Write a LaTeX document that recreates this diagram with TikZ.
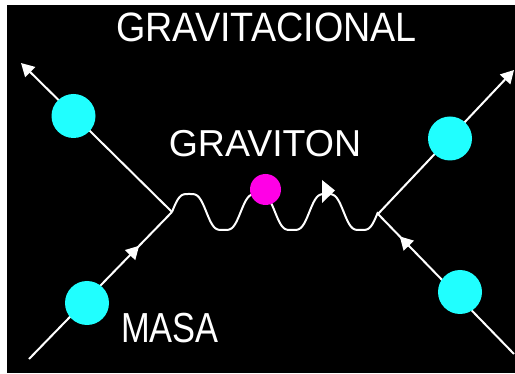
\documentclass[tikz,border=0pt]{standalone}
\usepackage{fontspec}
\setmainfont{Liberation Sans}
\usetikzlibrary{arrows.meta,decorations.markings}
\definecolor{cy}{RGB}{32,255,255}
\definecolor{mg}{RGB}{255,0,230}
\tikzset{
  ln/.style={white,line width=2pt},
  ball/.style={circle,fill=cy,draw=none,minimum size=44pt,inner sep=0pt},
  gball/.style={circle,fill=mg,draw=none,minimum size=31pt,inner sep=0pt},
  lbl/.style={white,inner sep=0pt,anchor=base},
  tip/.style={-{Triangle[length=13pt,width=14pt]}},
  midarrow/.style={postaction={decorate,decoration={markings,mark=at position #1 with {\arrow{Triangle[length=13pt,width=14pt]}}}}}
}
\begin{document}
\begin{tikzpicture}[x=1pt,y=-1pt,
  declare function={sq(\t)=1.5*sin(\t)-0.5*sin(\t)*sin(\t)*sin(\t);}]
\useasboundingbox (0,0) rectangle (515,374);
\fill[white] (0,0) rectangle (515,374);
\fill[black] (7,5) rectangle (515,373);
% coordinates
\coordinate (vl) at (172,212);
\coordinate (vr) at (378,214);
\coordinate (ul) at (21,63);
\coordinate (ll) at (29,359);
\coordinate (ur) at (514,70);
\coordinate (lr) at (514,354);
% fermion lines
\draw[ln,tip] (vl) -- (ul);
\draw[ln,midarrow=0.77] (ll) -- (vl);
\draw[ln,tip] (vr) -- (ur);
\draw[ln,midarrow=0.84] (lr) -- (vr);
% graviton wave
\draw[ln,line join=round] plot[domain=0:206,samples=160,smooth] ({172+\x},{212-18*sq(\x*5.2424)});
\fill[white] (322,180) -- (335,190.5) -- (322,203) -- cycle;
% balls
\node[ball] (b1) at (73.5,116) {};
\node[ball] (b2) at (87,303) {};
\node[ball] (b3) at (450,138.5) {};
\node[ball] (b4) at (460,292) {};
\node[gball] (g) at (265.5,189.5) {};
% labels
\node[lbl,font=\fontsize{41}{41}\selectfont,xscale=0.92] (t1) at (266.5,42) {GRAVITACIONAL};
\node[lbl,font=\fontsize{37.5}{37.5}\selectfont] (t2) at (265,157) {GRAVITON};
\node[lbl,font=\fontsize{42}{42}\selectfont,xscale=0.82] (t3) at (170,343) {MASA};
\end{tikzpicture}
\end{document}
